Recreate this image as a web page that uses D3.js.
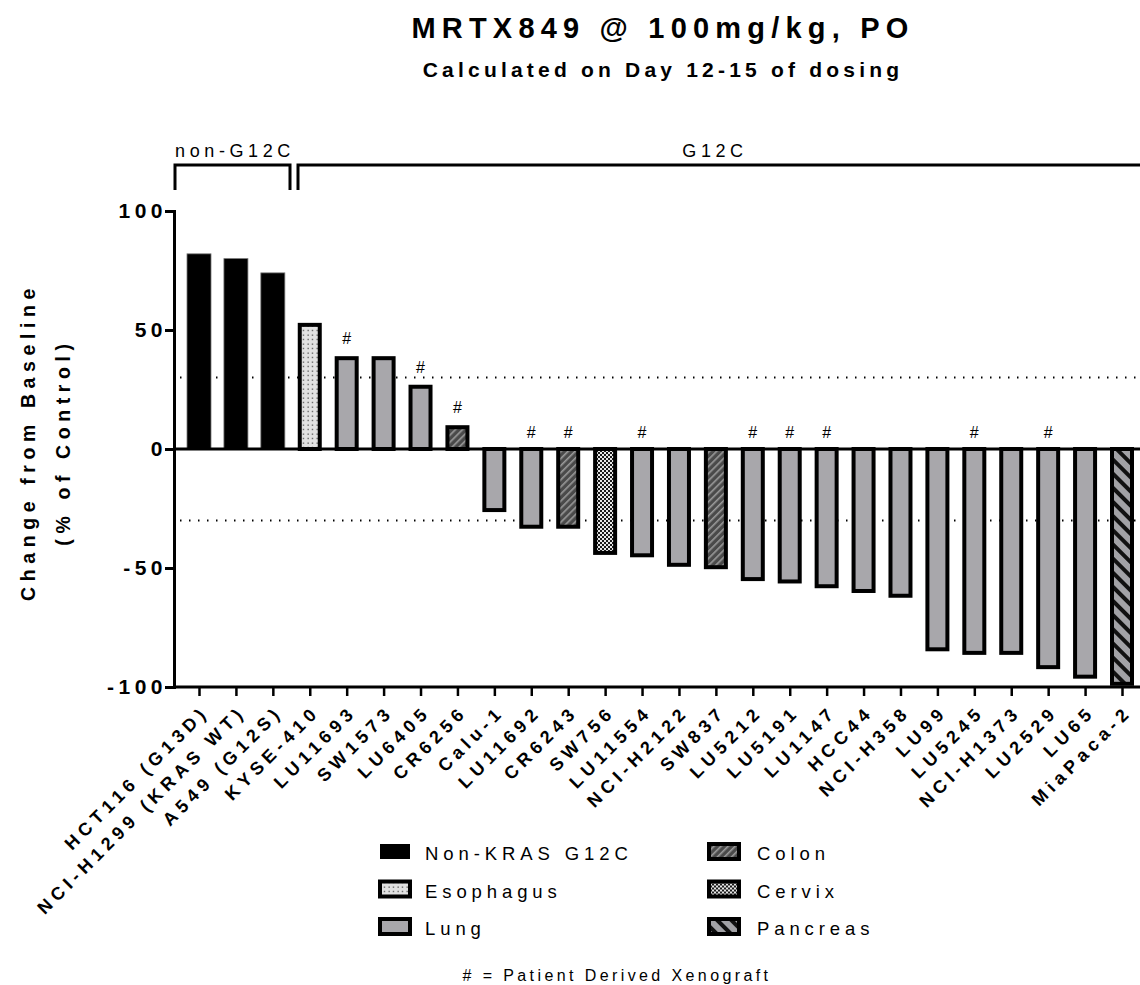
<!DOCTYPE html>
<html>
<head>
<meta charset="utf-8">
<script src="https://cdn.jsdelivr.net/npm/d3@7"></script>
<style>
  body { margin: 0; background: #fff; }
  svg { font-family: Arial, "Liberation Sans", sans-serif; }
</style>
</head>
<body>
<div id="chart"></div>
<script>
// cell lines, in plot order
let cell_lines = ["HCT116 (G13D)", "NCI-H1299 (KRAS WT)", "A549 (G12S)", "KYSE-410", "LU11693",
    "SW1573", "LU6405", "CR6256", "Calu-1", "LU11692", "CR6243", "SW756", "LU11554", "NCI-H2122",
    "SW837", "LU5212", "LU5191", "LU1147", "HCC44", "NCI-H358", "LU99", "LU5245", "NCI-H1373",
    "LU2529", "LU65", "MiaPaca-2"];

let change_values = [82, 80, 74, 53, 39, 39, 27, 10, -26.5, -33.5, -33.5, -44.5, -45.5, -49.5,
    -50.5, -55.5, -56.5, -58.5, -60.5, -62.5, -85, -86.5, -86.5, -92.5, -96.5, -99.5];

let tissue = ["Non-KRAS G12C", "Non-KRAS G12C", "Non-KRAS G12C", "Esophagus", "Lung", "Lung",
    "Lung", "Colon", "Lung", "Lung", "Colon", "Cervix", "Lung", "Lung", "Colon", "Lung", "Lung",
    "Lung", "Lung", "Lung", "Lung", "Lung", "Lung", "Lung", "Lung", "Pancreas"];

let pdx = ["LU11693", "LU6405", "CR6256", "LU11692", "CR6243", "LU11554", "LU5212", "LU5191",
    "LU1147", "LU5245", "LU2529"];

let y_ticks = [-100, -50, 0, 50, 100];
let thresholds = [30, -30];

let legend_left = ["Non-KRAS G12C", "Esophagus", "Lung"];
let legend_right = ["Colon", "Cervix", "Pancreas"];

let width = 1140, height = 985;

let svg = d3.select("#chart").append("svg")
    .attr("width", width)
    .attr("height", height);

// fill patterns
let defs = svg.append("defs");

let p_eso = defs.append("pattern").attr("id", "pat_eso")
    .attr("patternUnits", "userSpaceOnUse").attr("width", 4.5).attr("height", 4.5);
p_eso.append("rect").attr("width", 4.5).attr("height", 4.5).attr("fill", "#e2e2e2");
p_eso.append("rect").attr("x", 1.5).attr("y", 1.5).attr("width", 1.2).attr("height", 1.2).attr("fill", "#333");

let p_colon = defs.append("pattern").attr("id", "pat_colon")
    .attr("patternUnits", "userSpaceOnUse").attr("width", 5).attr("height", 5)
    .attr("patternTransform", "rotate(45)");
p_colon.append("rect").attr("width", 5).attr("height", 5).attr("fill", "#4a4a4a");
p_colon.append("rect").attr("width", 1.6).attr("height", 5).attr("fill", "#9a9a9a");

let p_cervix = defs.append("pattern").attr("id", "pat_cervix")
    .attr("patternUnits", "userSpaceOnUse").attr("width", 4).attr("height", 4);
p_cervix.append("rect").attr("width", 4).attr("height", 4).attr("fill", "#1a1a1a");
p_cervix.append("rect").attr("width", 2).attr("height", 2).attr("fill", "#e8e8e8");
p_cervix.append("rect").attr("x", 2).attr("y", 2).attr("width", 2).attr("height", 2).attr("fill", "#e8e8e8");

let p_panc = defs.append("pattern").attr("id", "pat_panc")
    .attr("patternUnits", "userSpaceOnUse").attr("width", 10).attr("height", 10)
    .attr("patternTransform", "rotate(-45)");
p_panc.append("rect").attr("width", 10).attr("height", 10).attr("fill", "#a2a2a6");
p_panc.append("rect").attr("width", 4).attr("height", 10).attr("fill", "#111");

let tissue_style = {
    "Non-KRAS G12C": {fill: "#000", sw: 0},
    "Esophagus": {fill: "url(#pat_eso)", sw: 4},
    "Lung": {fill: "#a8a7ab", sw: 4},
    "Colon": {fill: "url(#pat_colon)", sw: 4},
    "Cervix": {fill: "url(#pat_cervix)", sw: 4},
    "Pancreas": {fill: "url(#pat_panc)", sw: 4}
};

// scales
let y = d3.scaleLinear().domain([-100, 100]).range([687, 211]);
let x = d3.scalePoint().domain(cell_lines).range([199, 1122]);
let bar_w = 24;
let x_left = 174;

// titles
svg.append("text")
    .attr("x", 663).attr("y", 38)
    .attr("text-anchor", "middle")
    .style("font-size", "29px").style("font-weight", "bold").style("letter-spacing", "6.2px")
    .text("MRTX849 @ 100mg/kg, PO");
svg.append("text")
    .attr("x", 663).attr("y", 77)
    .attr("text-anchor", "middle")
    .style("font-size", "21px").style("font-weight", "bold").style("letter-spacing", "4.2px")
    .text("Calculated on Day 12-15 of dosing");

// group brackets
let brackets = svg.append("g").attr("fill", "none").attr("stroke", "#000").attr("stroke-width", 3);
brackets.append("path").attr("d", `M175,190V165H290V190`);
brackets.append("path").attr("d", `M298,190V165H1145`);
svg.append("text").attr("x", 235).attr("y", 157).attr("text-anchor", "middle")
    .style("font-size", "18px").style("letter-spacing", "4.6px").text("non-G12C");
svg.append("text").attr("x", 715).attr("y", 157).attr("text-anchor", "middle")
    .style("font-size", "18px").style("letter-spacing", "4.6px").text("G12C");

// threshold dotted lines
svg.append("g").selectAll("line").data(thresholds).join("line")
    .attr("x1", 180).attr("x2", width)
    .attr("y1", d => y(d)).attr("y2", d => y(d))
    .attr("stroke", "#000").attr("stroke-width", 2)
    .attr("stroke-dasharray", "1.5,7.5");

// bars
let bars = cell_lines.map((name, i) => ({name: name, v: change_values[i], t: tissue[i]}));
svg.append("g").selectAll("rect").data(bars).join("rect")
    .attr("x", d => x(d.name) - bar_w / 2 + tissue_style[d.t].sw / 2)
    .attr("width", d => bar_w - tissue_style[d.t].sw)
    .attr("y", d => d.v > 0 ? y(d.v) + tissue_style[d.t].sw / 2 : y(0))
    .attr("height", d => Math.abs(y(d.v) - y(0)) - tissue_style[d.t].sw / 2)
    .attr("fill", d => tissue_style[d.t].fill)
    .attr("stroke", d => tissue_style[d.t].sw ? "#000" : "#777")
    .attr("stroke-width", d => tissue_style[d.t].sw || 0.8);

// PDX markers
svg.append("g").selectAll("text").data(bars.filter(d => pdx.includes(d.name))).join("text")
    .attr("x", d => x(d.name))
    .attr("y", d => d.v > 0 ? y(d.v) - 12 : y(0) - 11)
    .attr("text-anchor", "middle")
    .style("font-size", "16px")
    .text("#");

// zero line
svg.append("line")
    .attr("x1", x_left).attr("x2", width)
    .attr("y1", y(0)).attr("y2", y(0))
    .attr("stroke", "#000").attr("stroke-width", 3);

// y axis
let y_axis = svg.append("g")
    .attr("transform", `translate(${x_left},0)`)
    .call(d3.axisLeft(y).tickValues(y_ticks).tickSize(9).tickFormat(d => String(d)))
    .attr("font-family", null).attr("font-size", null);
y_axis.select(".domain").attr("stroke-width", 3);
y_axis.selectAll(".tick line").attr("stroke-width", 3);
y_axis.selectAll(".tick text")
    .attr("x", -7)
    .attr("font-weight", "bold")
    .style("font-size", "21px").style("font-weight", "bold").style("letter-spacing", "4.5px");

// x axis at bottom
let x_axis = svg.append("g")
    .attr("transform", `translate(0,${y(-100)})`)
    .call(d3.axisBottom(x).tickSize(9).tickFormat(""));
x_axis.select(".domain").attr("d", `M${x_left},0H${width}`).attr("stroke-width", 3);
x_axis.selectAll(".tick line").attr("stroke-width", 2.5);

svg.append("g").selectAll("text").data(cell_lines).join("text")
    .attr("transform", d => `translate(${x(d) + 11},${y(-100) + 26}) rotate(-45)`)
    .attr("text-anchor", "end")
    .style("font-size", "18px").style("font-weight", "bold").style("letter-spacing", "5px")
    .text(d => d);

// y axis title
let ytitle = svg.append("text")
    .attr("transform", `translate(35,442) rotate(-90)`)
    .attr("text-anchor", "middle")
    .style("font-size", "19.5px").style("font-weight", "bold").style("letter-spacing", "5.6px");
ytitle.append("tspan").attr("x", 0).attr("dy", 0).text("Change from Baseline");
ytitle.append("tspan").attr("x", 0).attr("dy", 35).text("(% of Control)");

// legend
function draw_legend(items, lx, sx) {
    let g = svg.append("g");
    let rows = g.selectAll("g").data(items).join("g")
        .attr("transform", (d, i) => `translate(0,${852 + i * 37.5})`);
    rows.append("rect")
        .attr("x", sx + 2).attr("y", -8).attr("width", 30).attr("height", 15)
        .attr("fill", d => tissue_style[d].fill)
        .attr("stroke", "#000").attr("stroke-width", d => tissue_style[d].sw ? 4 : 0);
    rows.append("text")
        .attr("x", lx).attr("y", 8)
        .style("font-size", "18.5px").style("letter-spacing", "4.9px")
        .text(d => d);
}
draw_legend(legend_left, 425, 378);
draw_legend(legend_right, 757, 707);

svg.append("text")
    .attr("x", 617).attr("y", 981)
    .attr("text-anchor", "middle")
    .style("font-size", "16px").style("letter-spacing", "3.4px")
    .text("# = Patient Derived Xenograft");
</script>
</body>
</html>
